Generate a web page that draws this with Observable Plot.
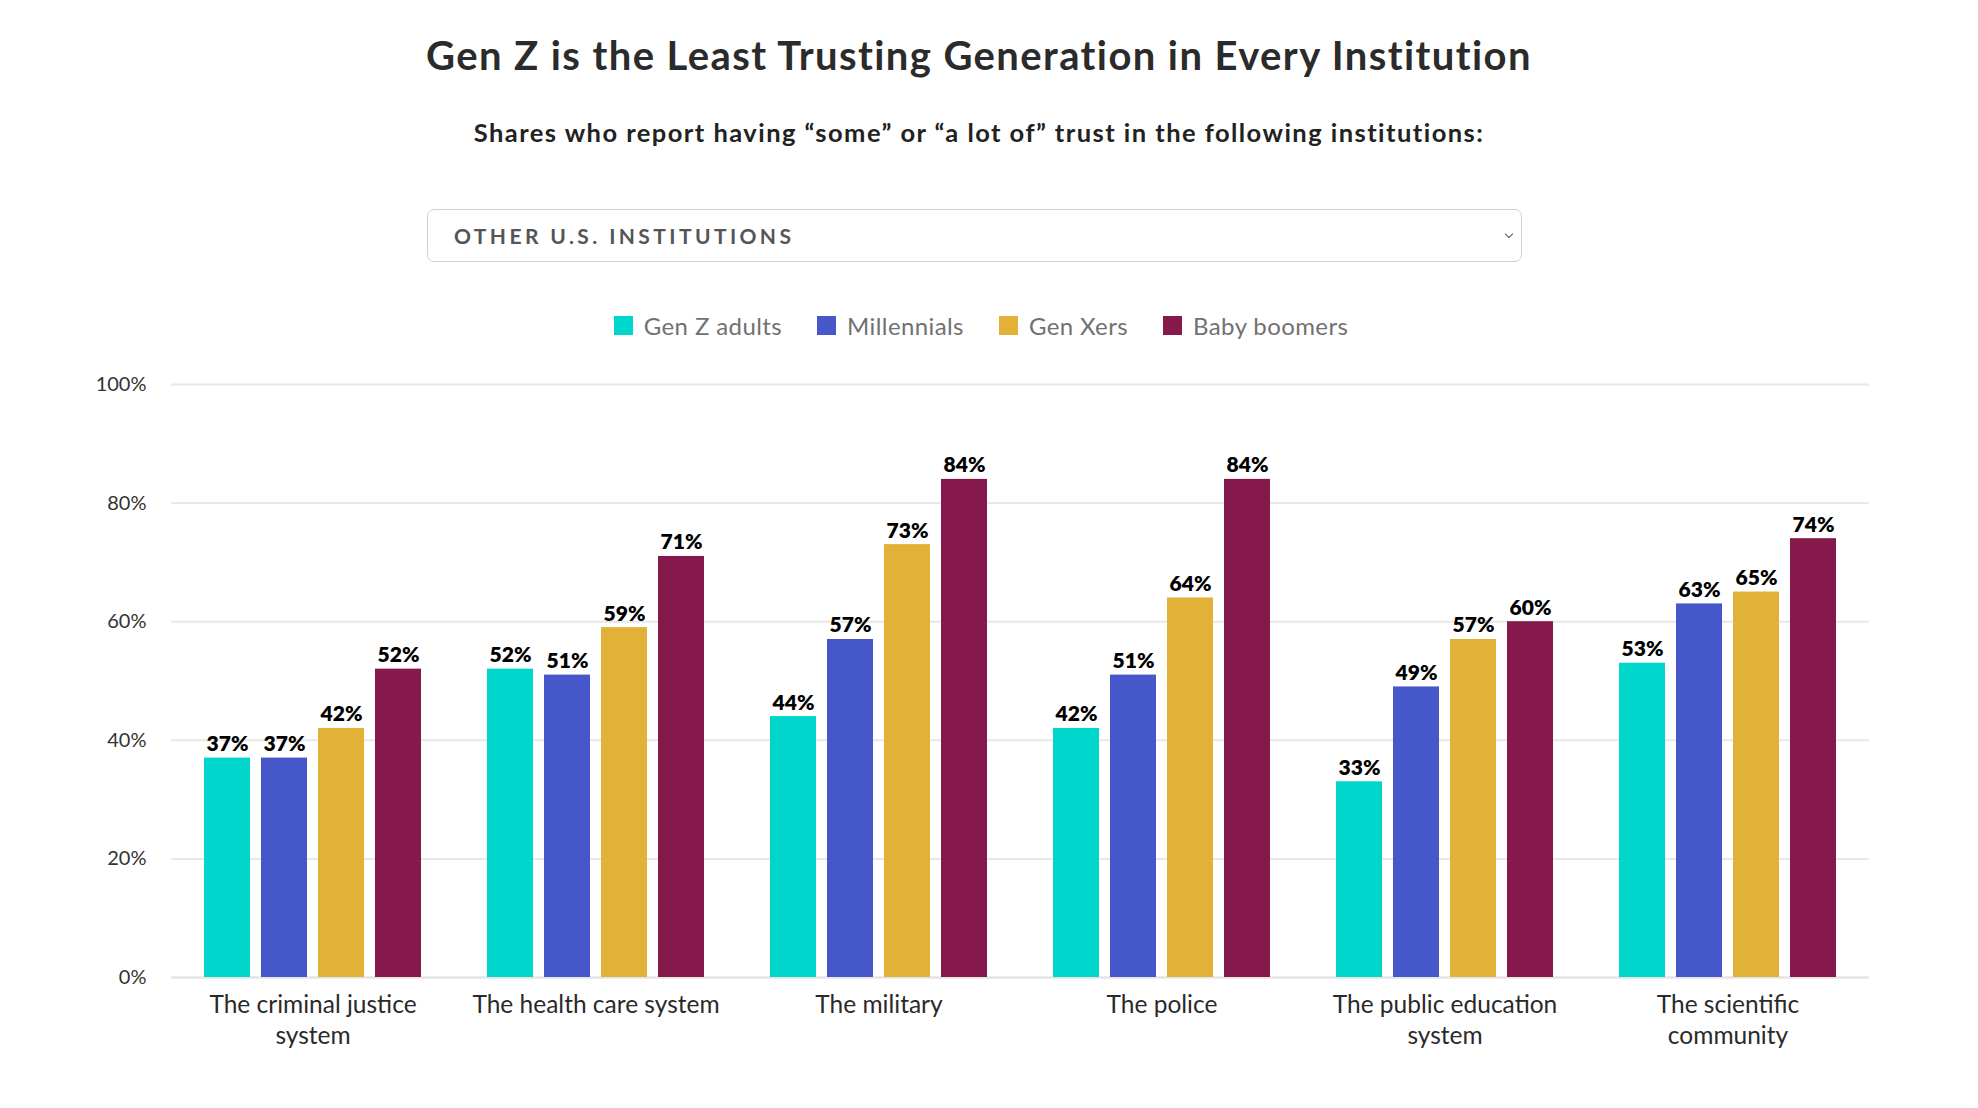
<!DOCTYPE html>
<html>
<head>
<meta charset="utf-8">
<script src="https://cdn.jsdelivr.net/npm/d3@7"></script>
<script src="https://cdn.jsdelivr.net/npm/@observablehq/plot@0.6"></script>
<style>
  html, body { margin: 0; padding: 0; background: #fff; }
  body { width: 1978px; height: 1108px; position: relative; font-family: Lato, "Open Sans", sans-serif; overflow: hidden; }
  #title { position: absolute; left: 0; width: 1958px; top: 34px; text-align: center; font-size: 40px; font-weight: 700; letter-spacing: 1.4px; color: #2b2b2b; line-height: 42px; }
  #subtitle { position: absolute; left: 0; width: 1958px; top: 118px; text-align: center; font-size: 25.5px; font-weight: 700; letter-spacing: 1.45px; color: #222; line-height: 28px; }
  #dropdown { position: absolute; left: 427px; top: 209px; width: 1093px; height: 51px; border: 1.5px solid #d2d2d2; border-radius: 7px; box-sizing: content-box; }
  #dropdown .txt { position: absolute; left: 26px; top: 0; line-height: 51px; font-size: 21px; font-weight: 700; letter-spacing: 3.4px; color: #555; }
  #dropdown .chev { position: absolute; right: 9px; top: 21px; width: 5px; height: 5px; border-right: 1.5px solid #555; border-bottom: 1.5px solid #555; transform: rotate(45deg); }
  #legend { position: absolute; left: 0; width: 1962px; top: 311px; display: flex; justify-content: center; align-items: center; gap: 35px; font-size: 24px; letter-spacing: 0.4px; color: #717171; }
  #legend .item { display: flex; align-items: center; gap: 11px; }
  #legend .sw { width: 19px; height: 19px; display: inline-block; }
  #chart { position: absolute; left: 0; top: 360px; }
</style>
</head>
<body>
<div id="title">Gen Z is the Least Trusting Generation in Every Institution</div>
<div id="subtitle">Shares who report having “some” or “a lot of” trust in the following institutions:</div>
<div id="dropdown"><span class="txt">OTHER U.S. INSTITUTIONS</span><span class="chev"></span></div>
<div id="legend"></div>
<div id="chart"></div>
<script>
const institutions = ["The criminal justice system", "The health care system", "The military", "The police", "The public education system", "The scientific community"];
const institutionLabels = ["The criminal justice\nsystem", "The health care system", "The military", "The police", "The public education\nsystem", "The scientific\ncommunity"];
const generations = ["Gen Z adults", "Millennials", "Gen Xers", "Baby boomers"];
const colors = ["#00d6cc", "#4657ca", "#e2b238", "#85194b"];
const genZ = [37, 52, 44, 42, 33, 53];
const millennials = [37, 51, 57, 51, 49, 63];
const genX = [42, 59, 73, 64, 57, 65];
const boomers = [52, 71, 84, 84, 60, 74];
const yTicks = [0, 20, 40, 60, 80, 100];

const series = [genZ, millennials, genX, boomers];
const rows = [];
institutions.forEach((inst, i) => {
  generations.forEach((g, j) => rows.push({institution: inst, generation: g, value: series[j][i]}));
});
const labelOf = new Map(institutions.map((d, i) => [d, institutionLabels[i]]));

// legend
const legend = document.getElementById("legend");
generations.forEach((g, i) => {
  const item = document.createElement("span");
  item.className = "item";
  item.innerHTML = `<span class="sw" style="background:${colors[i]}"></span><span>${g}</span>`;
  legend.appendChild(item);
});

const chart = Plot.plot({
  width: 1978,
  height: 720,
  marginLeft: 168,
  marginRight: 107,
  marginTop: 24,
  marginBottom: 103,
  style: {fontFamily: "Lato, 'Open Sans', sans-serif", fontSize: "20px", color: "#333", background: "#fff"},
  facet: {data: rows, x: "institution"},
  fx: {domain: institutions, paddingInner: 0, paddingOuter: 0, axis: null, label: null},
  x: {domain: generations, paddingInner: 0.186, paddingOuter: 0.56, axis: null},
  y: {domain: [0, 100], ticks: yTicks, tickFormat: d => d + "%", tickSize: 0, tickPadding: 25, label: null},
  color: {domain: generations, range: colors},
  marks: [
    Plot.ruleY(yTicks.filter(t => t > 0), {stroke: "#e8e8e8", strokeWidth: 2}),
    Plot.ruleY([0], {stroke: "#e4e4e4", strokeWidth: 2.5}),
    Plot.barY(rows, {x: "generation", y: "value", fill: "generation"}),
    Plot.text(rows, {x: "generation", y: "value", text: d => d.value + "%", lineAnchor: "bottom", dy: -7, fontSize: 21, fontWeight: 800, fill: "#000"}),
    Plot.text(rows, {filter: d => d.generation === generations[0], frameAnchor: "bottom", text: d => labelOf.get(d.institution), lineAnchor: "top", dy: 14, lineHeight: 1.25, fontSize: 24.5, fill: "#2a2a2a", style: "letter-spacing:0.3px"})
  ]
});
document.getElementById("chart").appendChild(chart);
</script>
</body>
</html>
